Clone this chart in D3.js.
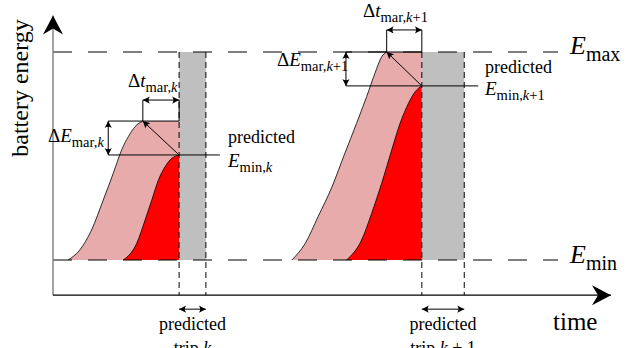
<!DOCTYPE html>
<html>
<head>
<meta charset="utf-8">
<script src="https://cdn.jsdelivr.net/npm/d3@7"></script>
<style>
  body { margin: 0; background: #fff; }
  svg { display: block; }
  text { font-family: "Liberation Serif", "Times New Roman", serif; fill: #000; }
</style>
</head>
<body>
<script>
var width = 626, height = 348;

// time in arbitrary units (0..100), energy in % between Emin (0) and Emax (100)
var tripStart = [22.6, 66.1];
var tripEnd = [27.4, 73.7];
var tripNames = ["k", "k + 1"];

// upper (pink) charging curves
var outerT = [
    [2.7, 4.8, 6.9, 9.0, 10.8, 12.3, 13.5, 14.7, 16.1],
    [42.8, 45.2, 47.5, 50.0, 52.3, 54.4, 56.2, 57.7, 58.9, 59.8]
];
var outerE = [
    [0, 4.8, 14.4, 28.8, 41.7, 52.9, 59.3, 64.1, 66.8],
    [0, 8.0, 20.8, 35.2, 51.3, 65.7, 78.5, 89.8, 97.7, 100]
];
// lower (red) charging curves
var innerT = [
    [12.6, 15.0, 16.5, 17.7, 18.9, 20.1, 21.3, 22.6],
    [52.6, 55.3, 57.1, 58.9, 60.7, 62.2, 63.7, 64.9, 66.1]
];
var innerE = [
    [0, 8.0, 19.2, 28.8, 38.5, 44.9, 48.9, 50.5],
    [0, 9.6, 22.4, 36.9, 52.9, 65.7, 75.3, 80.9, 83.7]
];
// annotation positions
var deltaEX = [9.9, 52.5];       // x of the ΔE arrow
var eminLineEnd = [29.9, 76.2];  // end of the predicted Emin line
var deltaTE = [76.9, 110.6];     // height of the Δt arrow

var pink = "#e8abab", red = "#ff0000", grey = "#bfbfbf";

var x = d3.scaleLinear().domain([0, 100]).range([53, 611]);
var y = d3.scaleLinear().domain([0, 100]).range([260, 52]);
var axisE = -16.9, topE = 117.5, lineEndT = 90.5;

var svg = d3.select("body").append("svg")
    .attr("width", width).attr("height", height);

var defs = svg.append("defs");
defs.append("marker").attr("id", "big")
    .attr("markerUnits", "userSpaceOnUse")
    .attr("viewBox", "-20 -11 21 22").attr("refX", 0).attr("refY", 0)
    .attr("markerWidth", 21).attr("markerHeight", 22)
    .attr("orient", "auto")
    .append("path").attr("d", "M0,0 L-19,-10 L-13,0 L-19,10 Z").attr("fill", "#000");
defs.append("marker").attr("id", "small")
    .attr("markerUnits", "userSpaceOnUse")
    .attr("viewBox", "-8 -4 9 8").attr("refX", 0).attr("refY", 0)
    .attr("markerWidth", 9).attr("markerHeight", 8)
    .attr("orient", "auto-start-reverse")
    .append("path").attr("d", "M0,0 L-7,-3.6 Q-4.5,0 -7,3.6 Z").attr("fill", "#000");

var area = d3.area().curve(d3.curveMonotoneX)
    .x(function (d) { return x(d[0]); })
    .y0(y(0))
    .y1(function (d) { return y(d[1]); });
var line = d3.line().curve(d3.curveMonotoneX)
    .x(function (d) { return x(d[0]); })
    .y(function (d) { return y(d[1]); });

function seg(x1, y1, x2, y2, opts) {
    var l = svg.append("line")
        .attr("x1", x1).attr("y1", y1).attr("x2", x2).attr("y2", y2)
        .attr("stroke", opts.color || "#000")
        .attr("stroke-width", opts.w || 1);
    if (opts.dash) l.attr("stroke-dasharray", opts.dash);
    if (opts.start) l.attr("marker-start", "url(#" + opts.start + ")");
    if (opts.end) l.attr("marker-end", "url(#" + opts.end + ")");
    return l;
}

// math-like label: parts are [text, italic, subscript]
function label(px, py, size, subSize, parts, anchor) {
    var t = svg.append("text").attr("x", px).attr("y", py)
        .attr("font-size", size);
    if (anchor) t.attr("text-anchor", anchor);
    var inSub = false;
    parts.forEach(function (p) {
        var s = t.append("tspan").text(p[0]);
        if (p[1]) s.attr("font-style", "italic");
        if (p[2]) {
            s.attr("font-size", subSize);
            if (!inSub) s.attr("dy", size * 0.26);
        } else if (inSub) {
            s.attr("dy", -size * 0.26);
        }
        inSub = !!p[2];
    });
    return t;
}

// filled regions
tripStart.forEach(function (ts, i) {
    var outer = outerT[i].map(function (t, j) { return [t, outerE[i][j]]; });
    var peak = outer[outer.length - 1];
    var pinkPts = outer.concat([[ts, peak[1]]]);
    svg.append("path").attr("d", area(pinkPts)).attr("fill", pink);

    var inner = innerT[i].map(function (t, j) { return [t, innerE[i][j]]; });
    svg.append("path").attr("d", area(inner)).attr("fill", red);

    svg.append("rect")
        .attr("x", x(ts)).attr("y", y(100))
        .attr("width", x(tripEnd[i]) - x(ts)).attr("height", y(0) - y(100))
        .attr("fill", grey);

    svg.append("path").attr("d", line(outer)).attr("fill", "none")
        .attr("stroke", "#000").attr("stroke-width", 0.8);
    svg.append("path").attr("d", line(inner)).attr("fill", "none")
        .attr("stroke", "#000").attr("stroke-width", 0.8);
});

// Emax / Emin dashed levels
[0, 100].forEach(function (e) {
    seg(x(0), y(e), x(lineEndT), y(e), {dash: "19,16", w: 1});
});

// trip boundaries and annotations
tripStart.forEach(function (ts, i) {
    var peakT = outerT[i][outerT[i].length - 1];
    var peakE = outerE[i][outerE[i].length - 1];
    var eminE = innerE[i][innerE[i].length - 1];

    seg(x(ts), y(100), x(ts), y(axisE), {dash: "6,4"});
    seg(x(tripEnd[i]), y(100), x(tripEnd[i]), y(axisE), {dash: "6,4"});

    // top level line and predicted Emin line
    seg(x(deltaEX[i]), y(peakE), x(ts), y(peakE), {});
    seg(x(deltaEX[i]), y(eminE), x(eminLineEnd[i]), y(eminE), {});
    // ΔE arrow
    seg(x(deltaEX[i]), y(peakE), x(deltaEX[i]), y(eminE), {start: "small", end: "small"});
    // Δt ticks and arrow
    seg(x(peakT), y(peakE), x(peakT), y(deltaTE[i]), {});
    seg(x(ts), y(peakE), x(ts), y(deltaTE[i]), {});
    seg(x(peakT), y(deltaTE[i]), x(ts), y(deltaTE[i]), {start: "small", end: "small"});
    // diagonal arrow
    seg(x(ts), y(eminE), x(peakT), y(peakE), {end: "small"});

    // trip duration arrow below axis
    seg(x(ts), y(axisE) + 14, x(tripEnd[i]), y(axisE) + 14, {start: "small", end: "small"});
    var cx = (x(ts) + x(tripEnd[i])) / 2;
    svg.append("text").attr("x", cx).attr("y", 330).attr("font-size", 18)
        .attr("text-anchor", "middle").text("predicted");
    var tt = svg.append("text").attr("x", cx).attr("y", 354).attr("font-size", 18)
        .attr("text-anchor", "middle");
    tt.append("tspan").text("trip ");
    tt.append("tspan").attr("font-style", "italic").text(tripNames[i].charAt(0));
    tt.append("tspan").text(tripNames[i].slice(1));
});

// axes
seg(x(0), y(axisE), x(0), y(topE), {color: "#7f7f7f", w: 1.4, end: "big"});
seg(x(0), y(axisE), x(100), y(axisE), {w: 1.3, end: "big"});

// axis titles
svg.append("text").attr("transform", "translate(28,88) rotate(-90)")
    .attr("text-anchor", "middle").attr("font-size", 24).text("battery energy");
svg.append("text").attr("x", 553).attr("y", 330).attr("font-size", 25).text("time");

// level labels
label(570, y(100) + 2, 26, 20, [["E", true], ["max", false, true]]);
label(570, y(0) + 3, 26, 20, [["E", true], ["min", false, true]]);

// trip k annotations
label(128, 87, 19, 14.5, [["Δ"], ["t", true], ["mar,", false, true], ["k", true, true]]);
label(48, 142, 19, 14.5, [["Δ"], ["E", true], ["mar,", false, true], ["k", true, true]]);
svg.append("text").attr("x", 228).attr("y", 143).attr("font-size", 18).text("predicted");
label(228, 167, 19, 14.5, [["E", true], ["min,", false, true], ["k", true, true]]);

// trip k+1 annotations
label(363, 17, 19, 14.5, [["Δ"], ["t", true], ["mar,", false, true], ["k", true, true], ["+1", false, true]]);
label(277, 66, 19, 14.5, [["Δ"], ["E", true], ["mar,", false, true], ["k", true, true], ["+1", false, true]]);
svg.append("text").attr("x", 485).attr("y", 73).attr("font-size", 18).text("predicted");
label(485, 95, 19, 14.5, [["E", true], ["min,", false, true], ["k", true, true], ["+1", false, true]]);
</script>
</body>
</html>
